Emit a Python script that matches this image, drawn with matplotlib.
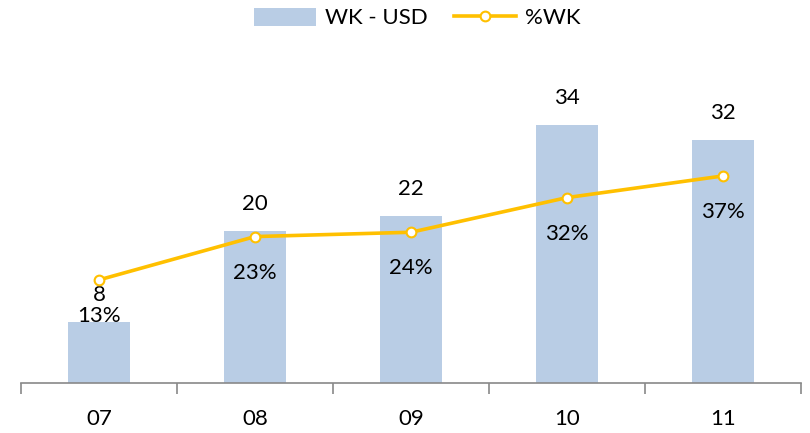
import numpy as np
import matplotlib.pyplot as plt
from matplotlib.ticker import FixedLocator, NullFormatter

years = ['07', '08', '09', '10', '11']
wk_usd = [8, 20, 22, 34, 32]
wk_pct = [13, 23, 24, 32, 37]

bar_color = '#B9CDE5'
line_color = '#FFC000'
axis_color = '#898989'

plt.rcParams['font.family'] = ['Lato', 'DejaVu Sans']
fs = 16

fig = plt.figure(figsize=(8.1, 4.33), dpi=100)
ax = fig.add_axes([21/810, 1 - 383/433, 780/810, 334/433])
x = np.arange(len(years))

bars = ax.bar(x, wk_usd, width=0.4, color=bar_color, label='WK - USD', zorder=1)
ax.set_xlim(-0.5, len(years) - 0.5)
ax.set_ylim(0, 44)

for xi, v in zip(x, wk_usd):
    ax.annotate(str(v), (xi, v), xytext=(0, 19.5), textcoords='offset points',
                ha='center', va='center', fontsize=fs)

# secondary axis for the percentage line
ax2 = ax.twinx()
ax2.set_ylim(-10.8, 66.3)
line, = ax2.plot(x, wk_pct, color=line_color, linewidth=2.6, marker='o',
                 markersize=7, markerfacecolor='white', markeredgecolor=line_color,
                 markeredgewidth=1.5, label='%WK', zorder=3)
for xi, v in zip(x, wk_pct):
    ax2.annotate('%d%%' % v, (xi, v), xytext=(0, -26), textcoords='offset points',
                 ha='center', va='center', fontsize=fs)

for a in (ax, ax2):
    for s in ['top', 'right', 'left']:
        a.spines[s].set_visible(False)
    a.set_yticks([])
ax.spines['bottom'].set_color(axis_color)
ax.spines['bottom'].set_linewidth(1.2)
ax2.spines['bottom'].set_visible(False)

ax.set_xticks(x)
ax.set_xticklabels(years, fontsize=fs)
ax.tick_params(axis='x', which='major', length=0, pad=19)
ax.xaxis.set_minor_locator(FixedLocator(np.arange(-0.5, len(years), 1.0)))
ax.xaxis.set_minor_formatter(NullFormatter())
ax.tick_params(axis='x', which='minor', length=8, width=1.2, color=axis_color, direction='out')

fig.legend([bars, line], ['WK - USD', '%WK'], loc='center', bbox_to_anchor=(0.515, 1 - 18/433),
           ncol=2, frameon=False, fontsize=fs, handlelength=2.8, handleheight=0.9,
           columnspacing=1.2, handletextpad=0.4)

fig.savefig('out.png', dpi=100)
